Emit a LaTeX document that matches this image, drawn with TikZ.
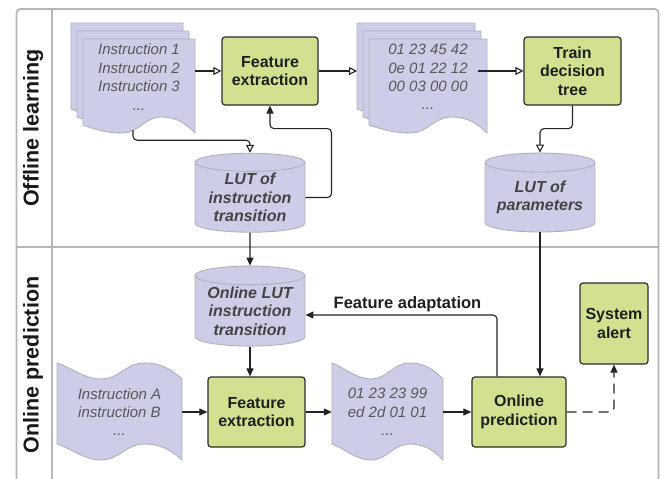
\documentclass[tikz,border=0pt]{standalone}
\usepackage{fontspec}
\setmainfont{Liberation Sans}
\usetikzlibrary{positioning, shapes.geometric, arrows.meta, calc}

\definecolor{lanegray}{RGB}{182,182,182}
\definecolor{docfill}{RGB}{205,205,231}
\definecolor{docline}{RGB}{176,176,190}
\definecolor{boxfill}{RGB}{209,225,143}
\definecolor{boxline}{RGB}{45,45,45}
\definecolor{doctext}{RGB}{88,88,88}
\definecolor{luttext}{RGB}{68,68,68}
\definecolor{wire}{RGB}{35,35,35}

% wavy edge, left to right (x0, x1, trough level, lift of left end)
\newcommand{\waveLR}[4]{(#1,{#3-#4}) .. controls ({#1+0.12*(#2-#1)},{#3-#4+5}) and ({#1+0.22*(#2-#1)},#3) .. ({#1+0.35*(#2-#1)},#3)
  .. controls ({#1+0.5*(#2-#1)},#3) and ({#1+0.55*(#2-#1)},{#3-16}) .. ({#1+0.7*(#2-#1)},{#3-16})
  .. controls ({#1+0.84*(#2-#1)},{#3-16}) and ({#1+0.92*(#2-#1)},{#3-9}) .. (#2,#3)}
% same edge, right to left
\newcommand{\waveRL}[4]{-- (#2,#3) .. controls ({#1+0.92*(#2-#1)},{#3-9}) and ({#1+0.84*(#2-#1)},{#3-16}) .. ({#1+0.7*(#2-#1)},{#3-16})
  .. controls ({#1+0.55*(#2-#1)},{#3-16}) and ({#1+0.5*(#2-#1)},#3) .. ({#1+0.35*(#2-#1)},#3)
  .. controls ({#1+0.22*(#2-#1)},#3) and ({#1+0.12*(#2-#1)},{#3-#4+5}) .. (#1,{#3-#4})}
% one sheet of a document (x0, x1, top, trough)
\newcommand{\docsheet}[4]{\filldraw[docshape] (#1,#3) -- (#2,#3) \waveRL{#1}{#2}{#4}{8} -- cycle;}
% punched tape (x0, x1, top trough, bottom trough)
\newcommand{\tapesheet}[4]{\filldraw[docshape] \waveLR{#1}{#2}{#3}{16} \waveRL{#1}{#2}{#4}{16} -- cycle;}

\tikzset{
  lane/.style={draw=lanegray, line width=1.8pt},
  lanelabel/.style={font=\fontsize{21.5}{24}\selectfont\bfseries, text=black!90, rotate=90},
  docshape/.style={fill=docfill, draw=docline, line width=0.9pt},
  doctxt/.style={align=center, font=\fontsize{15}{18.4}\selectfont\itshape, text=doctext},
  process/.style={draw=boxline, fill=boxfill, line width=1.2pt, rounded corners=3pt, align=center,
    font=\fontsize{16}{18.3}\selectfont\bfseries, text=black!88},
  lut/.style={cylinder, shape border rotate=90, aspect=0.22, draw=docline, fill=docfill, line width=0.9pt,
    minimum width=110pt, minimum height=79pt, align=center, inner sep=0pt,
    font=\fontsize{16}{18.3}\selectfont\bfseries\itshape, text=luttext},
  openarrow/.style={draw=wire, line width=1.1pt, -{Triangle[open, length=8pt, width=8pt]}},
  filledarrow/.style={draw=wire, line width=1.1pt, -{Triangle[length=8pt, width=7pt]}},
}

\begin{document}
\begin{tikzpicture}[x=1pt, y=-1pt]
  \useasboundingbox (0,0) rectangle (661,479);

  % lanes
  \draw[lane, rounded corners=4pt] (16.5,490) |- (658.5,9) -- (658.5,490);
  \draw[lane] (52,9) -- (52,490);
  \draw[lane] (16.5,247) -- (658.5,247);
  \node[lanelabel] (offline) at (33,128) {Offline learning};
  \node[lanelabel] (online) at (33,365) {Online prediction};

  % offline learning
  \docsheet{71}{183}{23}{117}
  \docsheet{77}{189}{31}{125}
  \docsheet{83}{195}{39}{133}
  \node[doctxt, minimum width=112pt, minimum height=106pt] (instr) at (139,77) {Instruction 1\\Instruction 2\\Instruction 3\\...};

  \node[process, minimum width=96pt, minimum height=68pt] (fe1) at (270,71) {Feature\\extraction};

  \docsheet{357}{475}{23}{117}
  \docsheet{363}{481}{31}{125}
  \docsheet{369}{487}{39}{133}
  \coordinate (stack) at (357,71);
  \node[doctxt, minimum width=100pt] (data) at (428,77) {01 23 45 42\\0e 01 22 12\\00 03 00 00\\...};

  \node[process, minimum width=97pt, minimum height=68pt] (train) at (572.5,71) {Train\\decision\\tree};

  \node[lut] (lut1) at (250,197.5) {LUT of\\instruction\\transition};
  \node[lut] (lutp) at (540,197.5) {LUT of\\parameters};

  \draw[openarrow] (instr.east |- fe1) -- (fe1);
  \draw[openarrow] (fe1) -- (stack);
  \draw[openarrow] (data.east |- train) -- (train);
  \draw[openarrow, rounded corners=4pt] ([xshift=-6pt]instr.south) -- ++(0,10) -| (lut1.north);
  \draw[openarrow, rounded corners=4pt] (train.south) -- ++(0,23) -| (lutp.north);
  \draw[filledarrow, rounded corners=4pt] (lut1.east) -- ++(26,0) |- ($(fe1.south)+(0,23)$) -- (fe1.south);

  % online prediction
  \node[lut, minimum height=80pt] (onlut) at (250,311) {Online LUT\\instruction\\transition};

  \tapesheet{57}{182}{379}{460}
  \node[doctxt, minimum width=125pt] (tapeA) at (119.5,412) {Instruction A\\instruction B\\...};
  \node[process, minimum width=97pt, minimum height=70pt] (fe2) at (256.5,412) {Feature\\extraction};
  \tapesheet{332}{443}{379}{460}
  \node[doctxt, minimum width=111pt] (tapeB) at (387.5,412) {01 23 23 99\\ed 2d 01 01\\...};
  \node[process, minimum width=94pt, minimum height=70pt] (onpred) at (519,412) {Online\\prediction};
  \node[process, minimum width=68pt, minimum height=81pt] (alert) at (614,323.5) {System\\alert};
  \node[font=\fontsize{16.5}{18}\selectfont\bfseries, text=black!88] (adapt) at (407.5,304) {Feature adaptation};

  \draw[filledarrow] (lut1.south) -- (onlut.north);
  \draw[filledarrow] (lutp.south) -- (lutp.south |- onpred.north);
  \draw[filledarrow] (onlut.south) -- (onlut.south |- fe2.north);
  \draw[filledarrow] (tapeA) -- (fe2);
  \draw[filledarrow] (fe2) -- (tapeB);
  \draw[filledarrow] (tapeB) -- (onpred);
  \draw[filledarrow, rounded corners=4pt] ([xshift=-22pt]onpred.north) |- ([yshift=-4pt]onlut.east);
  \draw[filledarrow, dash pattern=on 10pt off 6pt, rounded corners=4pt] (onpred.east) -| (alert.south);
\end{tikzpicture}
\end{document}
